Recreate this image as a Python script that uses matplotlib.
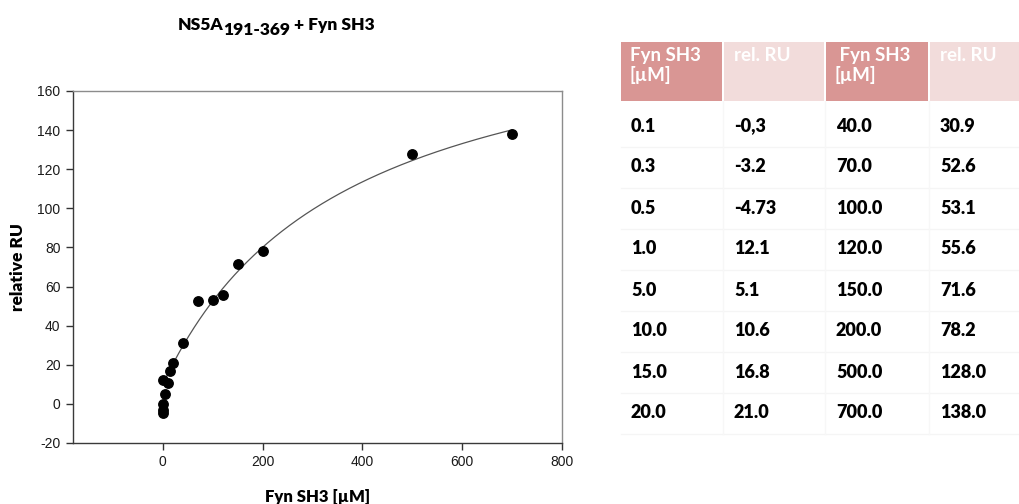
import numpy as np
import matplotlib
matplotlib.use("Agg")
import matplotlib.pyplot as plt
from matplotlib.patches import Rectangle

plt.rcParams["axes.unicode_minus"] = False

# titration data: Fyn SH3 concentration [uM] vs relative response units
conc = [0.1, 0.3, 0.5, 1.0, 5.0, 10.0, 15.0, 20.0,
        40.0, 70.0, 100.0, 120.0, 150.0, 200.0, 500.0, 700.0]
rel_ru = [-0.3, -3.2, -4.73, 12.1, 5.1, 10.6, 16.8, 21.0,
          30.9, 52.6, 53.1, 55.6, 71.6, 78.2, 128.0, 138.0]

# table cell text (as printed, incl. the comma in the first entry)
conc_labels = ["0.1", "0.3", "0.5", "1.0", "5.0", "10.0", "15.0", "20.0",
               "40.0", "70.0", "100.0", "120.0", "150.0", "200.0", "500.0", "700.0"]
ru_labels = ["-0,3", "-3.2", "-4.73", "12.1", "5.1", "10.6", "16.8", "21.0",
             "30.9", "52.6", "53.1", "55.6", "71.6", "78.2", "128.0", "138.0"]

# one-site binding fit with offset: y = y0 + Bmax*x/(Kd + x)
y0, bmax, kd = 10.0, 198.0, 365.0

CAL = ["Lato", "DejaVu Sans"]
ARIAL = ["Liberation Sans", "DejaVu Sans"]

fig = plt.figure(figsize=(10.2, 5.04), dpi=100)
W, H = 1020, 504

ax = fig.add_axes([73 / W, 1 - 443 / H, (562 - 73) / W, (443 - 91) / H])
xfit = np.linspace(min(conc), max(conc), 400)
ax.plot(xfit, y0 + bmax * xfit / (kd + xfit), color="#555555", lw=0.9, zorder=2)
ax.plot(conc, rel_ru, "o", color="black", ms=6.8, zorder=3)

ax.set_xlim(-180, 800)
ax.set_ylim(-20, 160)
ax.set_xticks(range(0, 801, 200))
ax.set_yticks(range(-20, 161, 20))
ax.tick_params(direction="out", length=5, width=1, colors="#333333", pad=4)
for lab in ax.get_xticklabels() + ax.get_yticklabels():
    lab.set_family(ARIAL)
    lab.set_fontsize(10)
    lab.set_color("#1a1a1a")
for side in ["left", "bottom"]:
    ax.spines[side].set_color("#3a3a3a")
for side in ["top", "right"]:
    ax.spines[side].set_color("#8c8c8c")
for sp in ax.spines.values():
    sp.set_linewidth(1.0)

ax.set_xlabel("Fyn SH3 [µM]", family=CAL, fontweight="heavy", fontsize=12, labelpad=14)
ax.set_ylabel("relative RU", family=CAL, fontweight="heavy", fontsize=12.5, labelpad=8)

# overlay axes in pixel units for the title pieces and the table
ov = fig.add_axes([0, 0, 1, 1])
ov.set_xlim(0, W)
ov.set_ylim(H, 0)
ov.axis("off")

# title with a full-size, lowered subscript
renderer = fig.canvas.get_renderer()
tkw = dict(family=CAL, fontweight="heavy", fontsize=12.5, va="baseline", ha="left")
parts = [("NS5A", 0), ("191-369", 5), (" + Fyn SH3", 0)]
texts = [ov.text(0, 30 + dy, s, **tkw) for s, dy in parts]
widths = []
for t in texts:
    bb = t.get_window_extent(renderer)
    widths.append(bb.width * W / fig.bbox.width)
x = 276 - sum(widths) / 2
for t, w in zip(texts, widths):
    t.set_x(x)
    x += w

# table
dark, light = "#d99694", "#f2dcdb"
col_x = [621, 724, 826, 930]
col_w = [101, 100, 102, 90]
head_top, head_h = 42, 59
for i, (cx, cw) in enumerate(zip(col_x, col_w)):
    ov.add_patch(Rectangle((cx, head_top), cw, head_h,
                           facecolor=dark if i % 2 == 0 else light, edgecolor="none"))
hkw = dict(family=CAL, fontweight="bold", fontsize=13.5, color="white",
           va="top", ha="left", linespacing=1.15)
ov.text(col_x[0] + 9, head_top + 5, "Fyn SH3\n[µM]", **hkw)
ov.text(col_x[1] + 10, head_top + 5, "rel. RU", **hkw)
ov.text(col_x[2] + 9, head_top + 5, " Fyn SH3\n[µM]", **hkw)
ov.text(col_x[3] + 10, head_top + 5, "rel. RU", **hkw)

row_y0, row_dy = 126, 41
n = len(conc_labels) // 2
for r in range(n):
    yy = row_y0 + r * row_dy
    ov.plot([621, 1020], [yy + row_dy / 2, yy + row_dy / 2], color="#f5f5f5", lw=1)
    cells = [conc_labels[r], ru_labels[r], conc_labels[r + n], ru_labels[r + n]]
    for cx, s in zip(col_x, cells):
        ov.text(cx + 10, yy, s, family=CAL, fontweight="heavy", fontsize=13,
                color="black", va="center", ha="left")
for cx in col_x[1:]:
    ov.plot([cx - 1, cx - 1], [101, 434], color="#f7f7f7", lw=1)

fig.savefig("out.png", dpi=100)
